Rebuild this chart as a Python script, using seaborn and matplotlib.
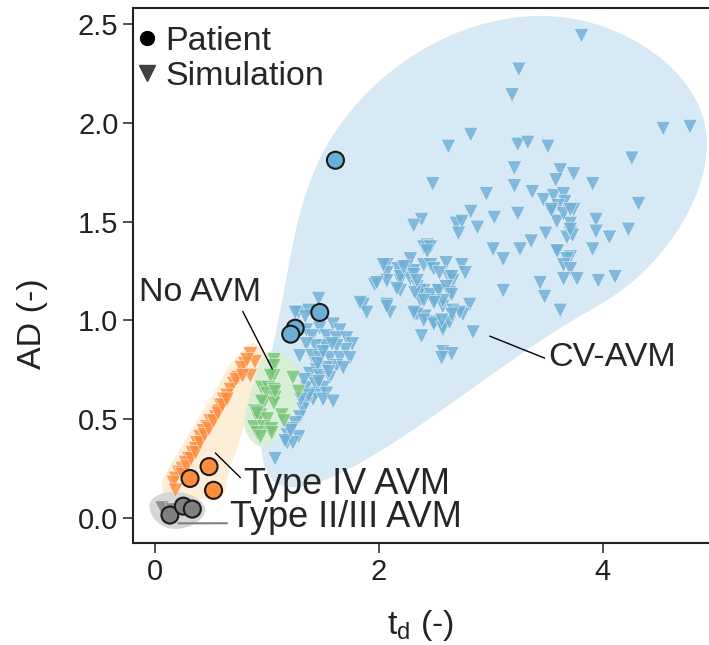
import numpy as np
import pandas as pd
import matplotlib
matplotlib.use("Agg")
import matplotlib.pyplot as plt
import seaborn as sns
from matplotlib.lines import Line2D

# ---------------- data ----------------
groups = ["CV-AVM", "No AVM", "Type IV AVM", "Type II/III AVM"]

cv_sim_x = [3.25, 3.19, 2.82, 2.62, 3.24, 3.33, 3.51, 3.21, 2.48, 3.21, 2.96, 3.37, 3.47, 2.82, 3.03, 3.24,
            2.38, 2.31, 2.69, 2.74, 2.71, 2.88, 3.49, 3.36, 2.43, 3.02, 3.26,
            3.81, 4.54, 4.78, 4.26, 3.62, 3.74, 3.58, 3.91, 3.56, 3.65, 3.66, 3.60, 3.74, 3.54, 4.32, 3.59,
            3.71, 3.71, 3.68, 3.73, 3.94, 3.94, 4.06, 4.23, 3.60, 3.71, 3.91, 3.65, 3.71, 3.71, 3.54,
            3.11, 3.59, 3.68, 3.65, 3.71, 3.65, 3.77, 3.96, 4.11, 3.44, 3.48, 3.11, 3.62,
            2.60, 2.74, 2.77, 2.62, 2.66, 2.54, 2.63, 2.50, 2.57, 2.66, 2.81, 2.75, 2.37, 2.41, 2.32, 2.49,
            2.57, 2.84, 2.38, 2.57, 2.65, 2.56, 2.25, 2.31, 2.19, 2.28, 2.34, 2.40,
            2.40, 2.46, 2.43, 2.07, 2.17, 2.28, 2.40, 2.46, 2.49, 2.54, 2.65, 2.07, 2.19, 2.31,
            2.19, 2.37, 2.46, 2.53, 2.60, 2.65, 2.57, 2.49, 2.40, 2.32,
            2.07, 2.10, 2.34, 2.40, 2.49, 2.57, 2.63, 2.72, 2.65, 2.56,
            1.46, 1.28, 1.37, 1.34, 1.96, 2.07, 1.86, 1.89, 2.07,
            1.59, 1.65, 1.47, 1.35, 1.40, 1.53, 1.62, 1.71, 1.76, 1.70, 1.62, 1.52, 1.43, 1.35, 1.29, 1.40,
            1.47, 1.56, 1.65, 1.74, 1.62, 1.53, 1.44, 1.38, 1.47, 1.56, 1.68, 1.35, 1.43, 1.50, 1.44, 1.53,
            1.41, 1.50, 1.59, 1.35, 1.32, 1.29, 1.25, 1.22, 1.18, 1.18, 1.28, 1.23, 1.07, 1.16, 1.21,
            1.83, 2.04, 2.22, 2.34, 2.31, 1.98, 2.16, 1.25,
            1.45, 1.50, 1.58, 1.33, 1.46, 1.55, 1.37, 1.30]
cv_sim_y = [2.27, 2.14, 1.94, 1.88, 1.89, 1.90, 1.88, 1.77, 1.69, 1.68, 1.64, 1.65, 1.61, 1.55, 1.52, 1.54,
            1.51, 1.48, 1.49, 1.50, 1.44, 1.47, 1.44, 1.40, 1.38, 1.36, 1.36,
            2.44, 1.97, 1.98, 1.82, 1.76, 1.74, 1.71, 1.69, 1.63, 1.64, 1.60, 1.58, 1.56, 1.55, 1.59, 1.50,
            1.49, 1.44, 1.42, 1.43, 1.51, 1.45, 1.42, 1.46, 1.35, 1.32, 1.36, 1.54, 1.56, 1.46, 1.56,
            1.31, 1.35, 1.31, 1.28, 1.26, 1.21, 1.21, 1.20, 1.22, 1.19, 1.12, 1.15, 1.05,
            1.29, 1.28, 1.24, 1.22, 1.20, 1.15, 1.14, 1.10, 1.07, 1.05, 1.08, 1.03, 1.10, 1.02, 1.03, 0.99,
            0.95, 0.94, 0.92, 0.84, 0.83, 0.81, 1.27, 1.25, 1.20, 1.21, 1.17, 1.15,
            1.37, 1.37, 1.35, 1.28, 1.26, 1.31, 1.28, 1.28, 1.26, 1.24, 1.22, 1.24, 1.22, 1.23,
            1.15, 1.15, 1.13, 1.15, 1.17, 1.13, 1.10, 1.09, 1.10, 1.14,
            1.08, 1.04, 1.03, 1.00, 0.98, 0.96, 0.99, 1.04, 1.03, 1.00,
            1.11, 1.04, 1.05, 1.02, 1.18, 1.20, 1.08, 1.04, 1.07,
            0.98, 0.95, 0.96, 0.95, 0.92, 0.92, 0.91, 0.91, 0.88, 0.85, 0.87, 0.87, 0.87, 0.88, 0.82, 0.82,
            0.81, 0.81, 0.81, 0.81, 0.77, 0.76, 0.75, 0.73, 0.72, 0.71, 0.76, 0.66, 0.68, 0.66, 0.63, 0.63,
            0.60, 0.60, 0.59, 0.58, 0.55, 0.51, 0.48, 0.45, 0.42, 0.38, 0.41, 0.38, 0.30, 0.39, 0.44,
            1.09, 1.28, 1.27, 1.20, 1.04, 1.19, 1.16, 1.04,
            0.78, 0.84, 0.88, 0.70, 0.69, 0.74, 0.62, 0.60]

noavm_sim_x = [1.06, 1.06, 1.06, 1.03, 1.23, 0.95, 1.01, 1.06, 1.00, 1.07, 1.28, 0.97, 1.06, 0.95,
               0.89, 0.94, 0.92, 1.00, 1.13, 1.15, 0.88, 0.97, 1.04, 0.91, 1.04, 0.94, 0.91, 1.07]
noavm_sim_y = [0.80, 0.77, 0.72, 0.72, 0.71, 0.66, 0.66, 0.65, 0.63, 0.61, 0.64, 0.58, 0.58, 0.59,
               0.54, 0.52, 0.50, 0.50, 0.52, 0.49, 0.46, 0.46, 0.45, 0.43, 0.43, 0.41, 0.53, 0.64]

t4_sim_x = [0.85, 0.89, 0.80, 0.77, 0.85, 0.74, 0.70, 0.67, 0.64, 0.61, 0.58, 0.57, 0.54, 0.49, 0.46,
            0.43, 0.40, 0.37, 0.36, 0.33, 0.30, 0.27, 0.24, 0.21, 0.18, 0.16, 0.18,
            0.24, 0.28, 0.32, 0.36, 0.40, 0.44, 0.48, 0.52, 0.56, 0.60, 0.64, 0.72, 0.82, 0.78]
t4_sim_y = [0.83, 0.79, 0.78, 0.76, 0.72, 0.71, 0.68, 0.65, 0.62, 0.60, 0.57, 0.54, 0.51, 0.49, 0.46,
            0.44, 0.41, 0.38, 0.35, 0.33, 0.30, 0.28, 0.25, 0.23, 0.20, 0.18, 0.14,
            0.22, 0.26, 0.30, 0.33, 0.38, 0.42, 0.45, 0.49, 0.53, 0.57, 0.60, 0.70, 0.80, 0.72]

t23_sim_x = [0.06, 0.15]
t23_sim_y = [0.05, 0.04]

cv_pat_x = [1.61, 1.47, 1.25, 1.21]
cv_pat_y = [1.81, 1.04, 0.96, 0.93]
t4_pat_x = [0.48, 0.31, 0.52]
t4_pat_y = [0.26, 0.20, 0.14]
t23_pat_x = [0.13, 0.25, 0.33]
t23_pat_y = [0.015, 0.06, 0.045]

# ---------------- tables ----------------
sim = pd.concat([
    pd.DataFrame({"td": cv_sim_x, "AD": cv_sim_y, "group": "CV-AVM"}),
    pd.DataFrame({"td": noavm_sim_x, "AD": noavm_sim_y, "group": "No AVM"}),
    pd.DataFrame({"td": t4_sim_x, "AD": t4_sim_y, "group": "Type IV AVM"}),
    pd.DataFrame({"td": t23_sim_x, "AD": t23_sim_y, "group": "Type II/III AVM"}),
], ignore_index=True)
pat = pd.concat([
    pd.DataFrame({"td": cv_pat_x, "AD": cv_pat_y, "group": "CV-AVM"}),
    pd.DataFrame({"td": t4_pat_x, "AD": t4_pat_y, "group": "Type IV AVM"}),
    pd.DataFrame({"td": t23_pat_x, "AD": t23_pat_y, "group": "Type II/III AVM"}),
], ignore_index=True)

point_colors = {"CV-AVM": "#6baed6", "No AVM": "#74c476",
                "Type IV AVM": "#fd8d3c", "Type II/III AVM": "#7f7f7f"}
blob_colors = {"CV-AVM": "#d7e9f4", "No AVM": "#d9eed6",
               "Type IV AVM": "#fdeed8", "Type II/III AVM": "#d6d6d6"}
blob_pad = {"CV-AVM": 15, "No AVM": 9, "Type IV AVM": 11, "Type II/III AVM": 13}
blob_seg = {"CV-AVM": None, "No AVM": None, "Type IV AVM": 25, "Type II/III AVM": None}

SX, SY = 112.0, 197.6   # approx pixels per data unit (for isotropic geometry)


def smooth_hull(x, y, pad, seg=None, n_eval=600):
    """Convex hull of the points, padded outward, closed with a periodic cubic spline."""
    P = np.c_[np.asarray(x) * SX, np.asarray(y) * SY]
    pts = sorted(set(map(tuple, np.round(P, 6))))

    def cross(o, a, b):
        return (a[0] - o[0]) * (b[1] - o[1]) - (a[1] - o[1]) * (b[0] - o[0])

    lower, upper = [], []
    for p in pts:
        while len(lower) >= 2 and cross(lower[-2], lower[-1], p) <= 0:
            lower.pop()
        lower.append(p)
    for p in reversed(pts):
        while len(upper) >= 2 and cross(upper[-2], upper[-1], p) <= 0:
            upper.pop()
        upper.append(p)
    H = np.array(lower[:-1] + upper[:-1], dtype=float)
    prev = np.roll(H, 1, axis=0)
    nxt = np.roll(H, -1, axis=0)
    e1, e2 = H - prev, nxt - H
    n1 = np.c_[e1[:, 1], -e1[:, 0]]
    n1 /= np.linalg.norm(n1, axis=1)[:, None]
    n2 = np.c_[e2[:, 1], -e2[:, 0]]
    n2 /= np.linalg.norm(n2, axis=1)[:, None]
    nb = n1 + n2
    nb /= np.linalg.norm(nb, axis=1)[:, None]
    H = H + pad * nb
    if seg is not None:
        new = []
        for i in range(len(H)):
            a, b = H[i], H[(i + 1) % len(H)]
            k = max(int(np.ceil(np.linalg.norm(b - a) / seg)), 1)
            for t in np.arange(k) / k:
                new.append(a + t * (b - a))
        H = np.array(new)
    m = len(H)
    h = np.linalg.norm(np.roll(H, -1, axis=0) - H, axis=1)
    A = np.zeros((m, m))
    R = np.zeros((m, 2))
    for i in range(m):
        ip, inx = (i - 1) % m, (i + 1) % m
        A[i, ip] += h[ip]
        A[i, i] += 2 * (h[ip] + h[i])
        A[i, inx] += h[i]
        R[i] = 6 * ((H[inx] - H[i]) / h[i] - (H[i] - H[ip]) / h[ip])
    M = np.linalg.solve(A, R)
    out = []
    total = h.sum()
    for i in range(m):
        j = (i + 1) % m
        k = max(int(n_eval * h[i] / total), 4)
        tt = np.linspace(0, h[i], k, endpoint=False)[:, None]
        hi = h[i]
        S = (M[i] * (hi - tt) ** 3 / (6 * hi) + M[j] * tt ** 3 / (6 * hi)
             + (H[i] / hi - M[i] * hi / 6) * (hi - tt) + (H[j] / hi - M[j] * hi / 6) * tt)
        out.append(S)
    out = np.vstack(out)
    return out[:, 0] / SX, out[:, 1] / SY


# ---------------- style ----------------
sns.set_theme(style="ticks")
plt.rcParams["font.family"] = ["Liberation Sans", "DejaVu Sans"]
plt.rcParams["mathtext.fontset"] = "custom"
plt.rcParams["mathtext.rm"] = "Liberation Sans"
plt.rcParams["mathtext.it"] = "Liberation Sans:italic"
FS = 21      # tick labels
FT = 24.5    # annotations, legend, axis labels
FT2 = 26     # "Type ..." annotations

fig = plt.figure(figsize=(7.09, 6.45), dpi=100)
ax = fig.add_axes([0.1876, 0.158, 0.8124, 0.8295])

# blobs (smoothed hulls of each group's points)
for g in ["CV-AVM", "Type IV AVM", "Type II/III AVM", "No AVM"]:
    d = pd.concat([sim[sim.group == g], pat[pat.group == g]], ignore_index=True)
    bx, by = smooth_hull(d.td.values, d.AD.values, blob_pad[g], blob_seg[g])
    ax.fill(bx, by, color=blob_colors[g], lw=0, zorder=0)

# simulation triangles
sns.scatterplot(data=sim, x="td", y="AD", hue="group", palette=point_colors,
                marker="v", s=110, alpha=0.8, edgecolor="white", linewidth=0.4,
                legend=False, ax=ax, zorder=2)
# patients
sns.scatterplot(data=pat, x="td", y="AD", hue="group", palette=point_colors,
                marker="o", s=150, edgecolor="#1a1a1a", linewidth=1.5,
                legend=False, ax=ax, zorder=3)

# annotations
ax.annotate("No AVM", xy=(1.045, 0.754), xytext=(-0.15, 1.14), fontsize=FT,
            ha="left", va="center",
            arrowprops=dict(arrowstyle="-", color="black", lw=1, shrinkA=0, shrinkB=0,
                            relpos=(0.84, 0.0)))
ax.annotate("Type IV AVM", xy=(0.536, 0.329), xytext=(0.79, 0.17), fontsize=FT2,
            ha="left", va="center",
            arrowprops=dict(arrowstyle="-", color="black", lw=1, shrinkA=0, shrinkB=0,
                            relpos=(0.0, 0.6)))
ax.annotate("Type II/III AVM", xy=(0.205, -0.027), xytext=(0.67, 0.0), fontsize=FT2,
            ha="left", va="center",
            arrowprops=dict(arrowstyle="-", color="#808080", lw=1.5, shrinkA=0, shrinkB=0,
                            relpos=(0.0, 0.35)))
ax.annotate("CV-AVM", xy=(2.99, 0.92), xytext=(3.51, 0.81), fontsize=FT,
            ha="left", va="center",
            arrowprops=dict(arrowstyle="-", color="black", lw=1, shrinkA=0, shrinkB=0,
                            relpos=(0.0, 0.45)))

# axes
ax.set_xlim(-0.2, 4.95)
ax.set_ylim(-0.127, 2.58)
ax.set_xticks([0, 2, 4])
ax.set_yticks([0.0, 0.5, 1.0, 1.5, 2.0, 2.5])
ax.set_yticklabels(["0.0", "0.5", "1.0", "1.5", "2.0", "2.5"])
ax.tick_params(labelsize=FS, length=7, width=1.2, color="#333333", labelcolor="#222222")
ax.set_xlabel(r"$\mathregular{t_d}$ (-)", fontsize=FT, color="#222222", labelpad=16)
ax.set_ylabel("AD (-)", fontsize=FT, color="#222222")
ax.yaxis.set_label_coords(-0.148, 0.41)
for side in ["left", "bottom", "top"]:
    ax.spines[side].set_linewidth(1.5)
    ax.spines[side].set_color("#222222")
ax.spines["right"].set_visible(False)

handles = [Line2D([], [], marker="o", ls="", color="black", markersize=10),
           Line2D([], [], marker="v", ls="", color="#404040", markersize=11)]
ax.legend(handles, ["Patient", "Simulation"], loc="upper left", frameon=False,
          bbox_to_anchor=(0.009, 0.967), fontsize=FT, handlelength=0.5,
          handletextpad=0.3, labelspacing=0.12, borderaxespad=0.0, borderpad=0.0)

fig.savefig("out.png", dpi=100)
